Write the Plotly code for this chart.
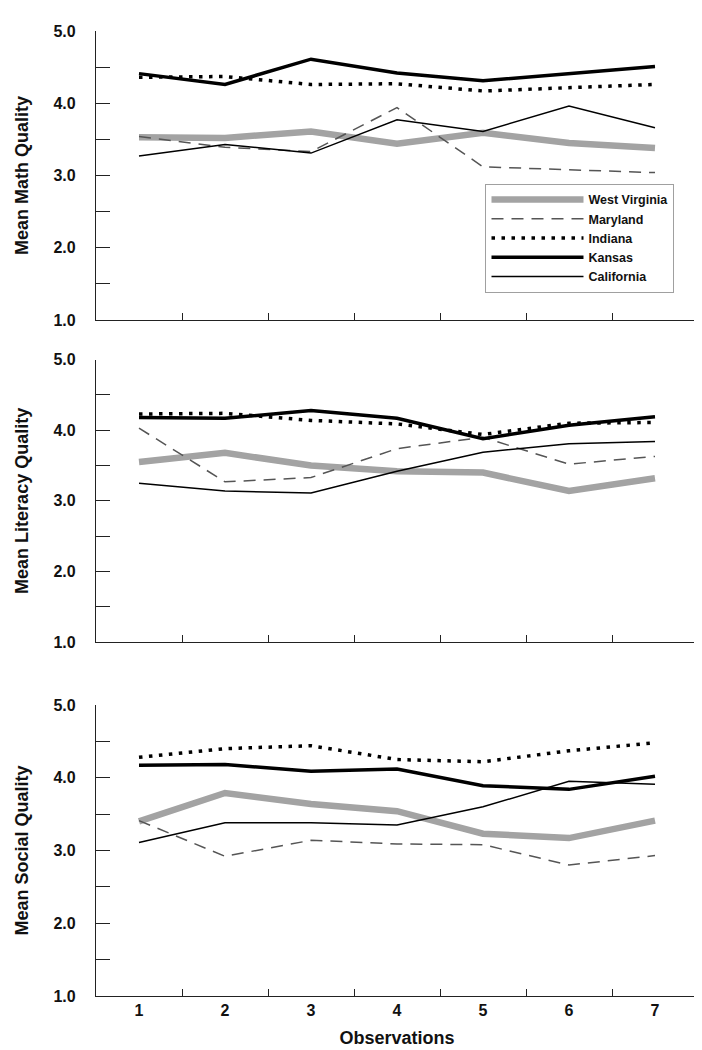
import plotly.graph_objects as go

observations = [1, 2, 3, 4, 5, 6, 7]
states = ["West Virginia", "Maryland", "Indiana", "Kansas", "California"]

math_wv = [3.53, 3.52, 3.61, 3.44, 3.59, 3.45, 3.38]
math_md = [3.54, 3.39, 3.33, 3.94, 3.12, 3.08, 3.04]
math_in = [4.36, 4.37, 4.26, 4.27, 4.17, 4.22, 4.26]
math_ks = [4.41, 4.26, 4.61, 4.42, 4.31, 4.41, 4.51]
math_ca = [3.27, 3.43, 3.31, 3.77, 3.61, 3.96, 3.66]

lit_wv = [3.55, 3.68, 3.50, 3.42, 3.40, 3.14, 3.32]
lit_md = [4.03, 3.27, 3.33, 3.74, 3.90, 3.52, 3.63]
lit_in = [4.23, 4.24, 4.14, 4.09, 3.94, 4.10, 4.11]
lit_ks = [4.18, 4.17, 4.28, 4.17, 3.88, 4.07, 4.19]
lit_ca = [3.25, 3.14, 3.11, 3.42, 3.69, 3.81, 3.84]

soc_wv = [3.40, 3.79, 3.64, 3.54, 3.23, 3.17, 3.41]
soc_md = [3.41, 2.92, 3.14, 3.09, 3.08, 2.80, 2.93]
soc_in = [4.28, 4.40, 4.44, 4.25, 4.22, 4.37, 4.48]
soc_ks = [4.17, 4.18, 4.09, 4.12, 3.89, 3.84, 4.02]
soc_ca = [3.11, 3.38, 3.38, 3.35, 3.60, 3.95, 3.91]

panel_titles = ["Mean Math Quality", "Mean Literacy Quality", "Mean Social Quality"]
x_title = "Observations"
y_tickvals = [1.0, 1.5, 2.0, 2.5, 3.0, 3.5, 4.0, 4.5, 5.0]
y_ticktext = ["1.0", "", "2.0", "", "3.0", "", "4.0", "", "5.0"]
x_minor_ticks = [1.5, 2.5, 3.5, 4.5, 5.5, 6.5, 7.5]

panels = [
    [math_wv, math_md, math_in, math_ks, math_ca],
    [lit_wv, lit_md, lit_in, lit_ks, lit_ca],
    [soc_wv, soc_md, soc_in, soc_ks, soc_ca],
]

styles = {
    "West Virginia": dict(color="#a3a3a3", width=6.5, dash="solid"),
    "Maryland": dict(color="#555555", width=1.5, dash="12px,8px"),
    "Indiana": dict(color="#000000", width=3.5, dash="3.5px,6.5px"),
    "Kansas": dict(color="#000000", width=3.5, dash="solid"),
    "California": dict(color="#000000", width=1.5, dash="solid"),
}

FONT = "Arial, Liberation Sans, Helvetica, sans-serif"
AXIS_COLOR = "#222222"

fig = go.Figure()

domains = [[0.7005, 1.0], [0.3668, 0.6594], [0.0, 0.3016]]

for i, series in enumerate(panels):
    suffix = "" if i == 0 else str(i + 1)
    for name, vals in zip(states, series):
        fig.add_trace(go.Scatter(
            x=observations, y=vals, mode="lines", name=name,
            line=styles[name], showlegend=(i == 0),
            xaxis="x" + suffix, yaxis="y" + suffix,
        ))
    xa = dict(
        domain=[0, 1], range=[0.5, 7.5], anchor="y" + suffix,
        showline=True, linecolor=AXIS_COLOR, linewidth=1.3,
        tickmode="array", tickvals=observations,
        ticktext=[str(o) for o in observations],
        ticks="", ticklen=0, ticklabelstandoff=0, showticklabels=(i == 2),
        tickfont=dict(family=FONT, size=16, color="#111", weight="bold"),
        minor=dict(tickmode="array", tickvals=x_minor_ticks, ticks="inside",
                   ticklen=7, tickwidth=1.2, tickcolor=AXIS_COLOR, showgrid=False),
        showgrid=False, zeroline=False, fixedrange=True,
    )
    if i == 2:
        xa["title"] = dict(text=x_title, font=dict(family=FONT, size=18, color="#111", weight="bold"), standoff=13)
    ya = dict(
        domain=domains[i], range=[1, 5], anchor="x" + suffix,
        showline=True, linecolor=AXIS_COLOR, linewidth=1.3,
        tickmode="array", tickvals=y_tickvals, ticktext=y_ticktext,
        ticks="inside", ticklen=14, tickwidth=1.2, tickcolor=AXIS_COLOR,
        ticklabelstandoff=16,
        tickfont=dict(family=FONT, size=16, color="#111", weight="bold"),
        title=dict(text=panel_titles[i], font=dict(family=FONT, size=18, color="#111", weight="bold"), standoff=20),
        showgrid=False, zeroline=False, fixedrange=True,
    )
    fig.update_layout(**{"xaxis" + suffix: xa, "yaxis" + suffix: ya})

fig.update_layout(
    width=702, height=1050,
    margin=dict(l=88, r=12, t=23, b=62, autoexpand=False),
    paper_bgcolor="white", plot_bgcolor="white",
    font=dict(family=FONT, color="#111"),
    legend=dict(
        x=0.647, y=0.8415, xanchor="left", yanchor="top",
        bgcolor="white", bordercolor="#a0a0a0", borderwidth=1,
        font=dict(family=FONT, size=12.5, color="#111", weight="bold"),
        itemwidth=92, tracegroupgap=0,
    ),
    showlegend=True,
)

fig.write_html("out.html")
